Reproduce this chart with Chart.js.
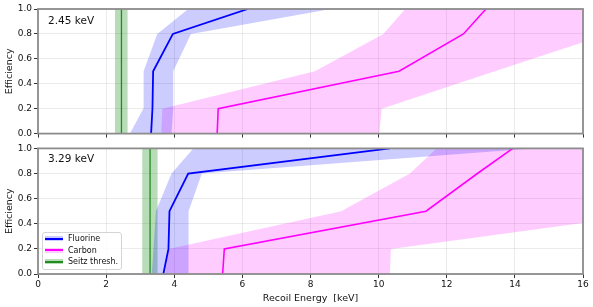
<!DOCTYPE html>
<html>
<head>
<meta charset="utf-8">
<script src="https://cdn.jsdelivr.net/npm/chart.js@4"></script>
<style>
  body { margin: 0; background: #fff; }
  #wrap { position: relative; width: 593px; height: 307px; font-family: "DejaVu Sans", sans-serif; }
  canvas { display: block; }
  #legend {
    position: absolute; left: 42px; top: 232px; width: 78px; height: 36px;
    border: 1px solid #d4d4d4; border-radius: 3px; background: rgba(255,255,255,0.85);
    font-size: 8px; color: #111;
  }
  .row { position: absolute; left: 2px; height: 10px; }
  .swatch { position: absolute; left: 0; top: 2px; width: 18px; height: 5px; }
  .swatch i { position: absolute; left: 0; right: 0; top: 1.5px; height: 2px; }
  .row span { position: absolute; left: 23px; top: 0; white-space: nowrap; line-height: 10px; }
</style>
</head>
<body>
<div id="wrap">
  <canvas id="topChart" width="593" height="141"></canvas>
  <canvas id="botChart" width="593" height="166"></canvas>
  <div id="legend"></div>
</div>
<script>
// efficiency levels shared by every curve
const effLevels = [0, 0.2, 0.5, 0.8, 1.0];

// --------- 2.45 keV panel ----------
const topSeitz = 2.45;
const topSeitzBand = [2.26, 2.63];
const topFluorine = [3.32, 3.36, 3.38, 3.96, 6.16];
const topFluorineLo = [2.70, 3.09, 3.10, 3.50, 4.41];
const topFluorineHi = [3.92, 3.97, 3.97, 4.49, 8.6];
const topCarbon = [5.26, 5.29, 10.6, 12.49, 13.15];
const topCarbonLo = [3.62, 3.65, 8.13, 10.14, 10.78];
const topCarbonHi = [10.02, 10.09, 13.41, 16.73, 18.9];

// --------- 3.29 keV panel ----------
const botSeitz = 3.29;
const botSeitzBand = [3.06, 3.51];
const botFluorine = [3.68, 3.83, 3.86, 4.41, 10.33];
const botFluorineLo = [3.34, 3.39, 3.46, 3.92, 4.56];
const botFluorineHi = [4.42, 4.42, 4.42, 4.81, 14.5];
const botCarbon = [5.42, 5.47, 11.39, 12.9, 13.94];
const botCarbonLo = [3.73, 3.83, 8.9, 10.92, 11.7];
const botCarbonHi = [10.33, 10.36, 18.6, 26.8, 32.3];

const xTicks = [0, 2, 4, 6, 8, 10, 12, 14, 16];
const yTicks = [0, 0.2, 0.4, 0.6, 0.8, 1.0];

const series = [
  { label: "Fluorine", color: "rgb(0,0,255)", band: "rgba(0,0,255,0.2)" },
  { label: "Carbon", color: "rgb(255,0,255)", band: "rgba(255,0,255,0.2)" },
  { label: "Seitz thresh.", color: "rgb(30,140,30)", band: "rgba(0,128,0,0.28)" },
];

const font = "DejaVu Sans";

function curve(xs) {
  return xs.map((x, i) => ({ x: x, y: effLevels[i] }));
}
function polygon(lo, hi) {
  const pts = curve(lo);
  for (let i = hi.length - 1; i >= 0; i--) pts.push({ x: hi[i], y: effLevels[i] });
  return pts;
}
function lineSet(data, color, width) {
  return { data: data, borderColor: color, borderWidth: width, pointRadius: 0, fill: false, tension: 0 };
}
function bandSet(data, color) {
  return { data: data, borderColor: "rgba(0,0,0,0)", borderWidth: 0, backgroundColor: color,
           pointRadius: 0, fill: "shape", tension: 0 };
}

// frame + panel label
const framePlugin = {
  id: "frame",
  afterDatasetsDraw(chart, args, opts) {
    const a = chart.chartArea;
    const ctx = chart.ctx;
    ctx.save();
    ctx.fillStyle = "#111";
    ctx.font = "10.5px " + font;
    ctx.textBaseline = "middle";
    ctx.fillText(opts.text, a.left + 10, a.top + opts.dy);
    ctx.strokeStyle = "#8c8c8c";
    ctx.lineWidth = 1.8;
    ctx.strokeRect(a.left, a.top, a.right - a.left, a.bottom - a.top);
    ctx.restore();
  },
};

function makeChart(id, p) {
  const datasets = [
    lineSet(curve(p.fluorine), series[0].color, 1.8),
    lineSet(curve(p.carbon), series[1].color, 1.6),
    lineSet([{ x: p.seitz, y: 0 }, { x: p.seitz, y: 1 }], series[2].color, 1.3),
    bandSet(polygon(p.fluorineLo, p.fluorineHi), series[0].band),
    bandSet(polygon(p.carbonLo, p.carbonHi), series[1].band),
    bandSet([{ x: p.seitzBand[0], y: 0 }, { x: p.seitzBand[0], y: 1 },
             { x: p.seitzBand[1], y: 1 }, { x: p.seitzBand[1], y: 0 }], series[2].band),
  ];
  return new Chart(document.getElementById(id), {
    type: "line",
    data: { datasets: datasets },
    plugins: [framePlugin],
    options: {
      responsive: false,
      animation: false,
      layout: { padding: { top: p.padTop, right: 10, left: 0, bottom: 0 } },
      plugins: {
        legend: { display: false },
        tooltip: { enabled: false },
        frame: { text: p.label, dy: p.labelDy },
      },
      scales: {
        x: {
          type: "linear", min: 0, max: 16,
          afterBuildTicks: (s) => { s.ticks = xTicks.map((v) => ({ value: v })); },
          afterFit: (s) => { s.height = p.xHeight; },
          border: { display: false },
          grid: { color: "rgba(0,0,0,0.08)", tickColor: "#333", tickLength: 4, tickWidth: 1 },
          ticks: { display: p.showX, color: "#111", font: { family: font, size: 9 }, padding: 1, maxRotation: 0 },
          title: { display: p.showX, text: "Recoil Energy  [keV]", color: "#111",
                   font: { family: font, size: 9.5 }, padding: { top: 2, bottom: 3 } },
        },
        y: {
          min: 0, max: 1,
          afterBuildTicks: (s) => { s.ticks = yTicks.map((v) => ({ value: v })); },
          afterFit: (s) => { s.width = 38; },
          border: { display: false },
          grid: { color: "rgba(0,0,0,0.08)", tickColor: "#333", tickLength: 4, tickWidth: 1 },
          ticks: { color: "#111", font: { family: font, size: 9 }, padding: 2,
                   callback: (v) => v.toFixed(1) },
          title: { display: true, text: "Efficiency", color: "#111",
                   font: { family: font, size: 9.5 }, padding: { top: 4, bottom: 4 } },
        },
      },
    },
  });
}

makeChart("topChart", {
  label: "2.45 keV", labelDy: 12, padTop: 9, xHeight: 7, showX: false,
  seitz: topSeitz, seitzBand: topSeitzBand,
  fluorine: topFluorine, fluorineLo: topFluorineLo, fluorineHi: topFluorineHi,
  carbon: topCarbon, carbonLo: topCarbonLo, carbonHi: topCarbonHi,
});

makeChart("botChart", {
  label: "3.29 keV", labelDy: 11, padTop: 7, xHeight: 33, showX: true,
  seitz: botSeitz, seitzBand: botSeitzBand,
  fluorine: botFluorine, fluorineLo: botFluorineLo, fluorineHi: botFluorineHi,
  carbon: botCarbon, carbonLo: botCarbonLo, carbonHi: botCarbonHi,
});

// --------- legend ----------
const legend = document.getElementById("legend");
series.forEach((s, i) => {
  const row = document.createElement("div");
  row.className = "row";
  row.style.top = (1 + i * 11.5) + "px";
  row.innerHTML = '<div class="swatch" style="background:' + s.band + '"><i style="background:' +
    s.color + '"></i></div><span>' + s.label + "</span>";
  legend.appendChild(row);
});
</script>
</body>
</html>
